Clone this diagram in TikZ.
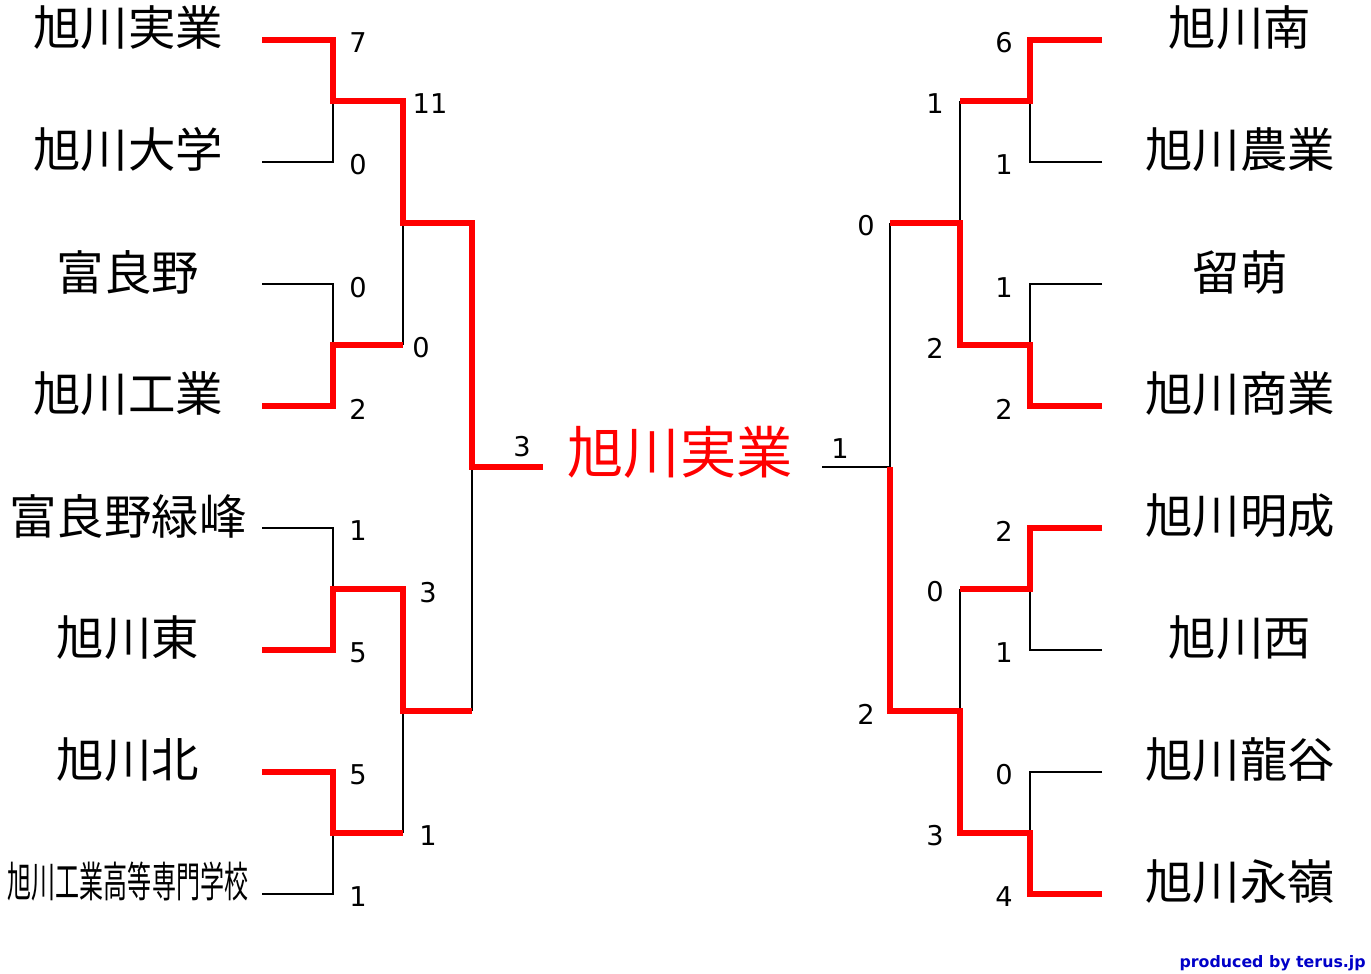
\documentclass[tikz,border=0pt]{standalone}
\usepackage{fontspec}
\setmainfont{DejaVu Sans}
\newfontfamily\jp{Noto Sans CJK JP}
\usetikzlibrary{positioning}

\begin{document}
\begin{tikzpicture}[
  x = 0.02cm, y = -0.02cm,
  lose/.style={black, line width=1.6pt},
  win/.style={red, line width=3pt, line cap=butt, line join=miter},
  team/.style={font=\jp\fontsize{27}{27}\selectfont, inner sep=0pt},
  score/.style={font=\fontsize{15.5}{15.5}\selectfont, inner sep=0pt}
]
\useasboundingbox (0,0) rectangle (1371,973);

%teams, left
\node[team] (L1) at (128,28) {旭川実業};
\node[team] (L2) at (128,150) {旭川大学};
\node[team] (L3) at (128,272) {富良野};
\node[team] (L4) at (128,394) {旭川工業};
\node[team] (L5) at (128,516) {富良野緑峰};
\node[team] (L6) at (128,638) {旭川東};
\node[team] (L7) at (128,760) {旭川北};
\node[team, xscale=0.57, font=\jp\fontsize{24}{24}\selectfont] (L8) at (128,882) {旭川工業高等専門学校};
%teams, right
\node[team] (R1) at (1240,28) {旭川南};
\node[team] (R2) at (1240,150) {旭川農業};
\node[team] (R3) at (1240,272) {留萌};
\node[team] (R4) at (1240,394) {旭川商業};
\node[team] (R5) at (1240,516) {旭川明成};
\node[team] (R6) at (1240,638) {旭川西};
\node[team] (R7) at (1240,760) {旭川龍谷};
\node[team] (R8) at (1240,882) {旭川永嶺};
%champion
\node[team, red, font=\jp\fontsize{32}{32}\selectfont] (champ) at (680,452) {旭川実業};

%left bracket
\draw[lose] (262,162) -- (333,162) -- (333,101);
\draw[lose] (262,284) -- (333,284) -- (333,345);
\draw[lose] (403,223) -- (403,345);
\draw[lose] (262,528) -- (333,528) -- (333,589);
\draw[lose] (262,894) -- (333,894) -- (333,833);
\draw[lose] (403,833) -- (403,711);
\draw[lose] (472,711) -- (472,467);
\draw[win] (262,40) -- (333,40) -- (333,101) -- (403,101) -- (403,223) -- (472,223) -- (472,467) -- (543,467);
\draw[win] (262,406) -- (333,406) -- (333,345) -- (403,345);
\draw[win] (262,650) -- (333,650) -- (333,589) -- (403,589) -- (403,711) -- (472,711);
\draw[win] (262,772) -- (333,772) -- (333,833) -- (403,833);

%right bracket
\draw[lose] (1102,162) -- (1030,162) -- (1030,101);
\draw[lose] (960,101) -- (960,223);
\draw[lose] (1102,284) -- (1030,284) -- (1030,345);
\draw[lose] (890,223) -- (890,467) -- (822,467);
\draw[lose] (1102,650) -- (1030,650) -- (1030,589);
\draw[lose] (960,589) -- (960,711);
\draw[lose] (1102,772) -- (1030,772) -- (1030,833);
\draw[win] (1102,40) -- (1030,40) -- (1030,101) -- (960,101);
\draw[win] (1102,406) -- (1030,406) -- (1030,345) -- (960,345) -- (960,223) -- (890,223);
\draw[win] (1102,528) -- (1030,528) -- (1030,589) -- (960,589);
\draw[win] (1102,894) -- (1030,894) -- (1030,833) -- (960,833) -- (960,711) -- (890,711) -- (890,467);

%scores, left
\foreach \s/\y [count=\i] in {7/43,0/165,0/288,2/409,1/531,5/653,5/775,1/897}
  \node[score] (sl\i) at (358,\y) {\s};
\node[score] (sl9) at (430,104) {11};
\node[score] (sl10) at (421,348) {0};
\node[score] (sl11) at (428,593) {3};
\node[score] (sl12) at (428,836) {1};
\node[score] (sl13) at (522,447) {3};
%scores, right
\foreach \s/\y [count=\i] in {6/43,1/165,1/288,2/409,2/531,1/653,0/775,4/897}
  \node[score] (sr\i) at (1004,\y) {\s};
\node[score] (sr9) at (935,104) {1};
\node[score] (sr10) at (935,348) {2};
\node[score] (sr11) at (935,592) {0};
\node[score] (sr12) at (935,836) {3};
\node[score] (sr13) at (866,226) {0};
\node[score] (sr14) at (866,714) {2};
\node[score] (sr15) at (840,449) {1};

\node[inner sep=0pt, anchor=east, text={rgb,255:red,0;green,0;blue,200}, font=\bfseries\fontsize{9}{9}\selectfont] (credit) at (1366,963) {produced by terus.jp};
\end{tikzpicture}
\end{document}
